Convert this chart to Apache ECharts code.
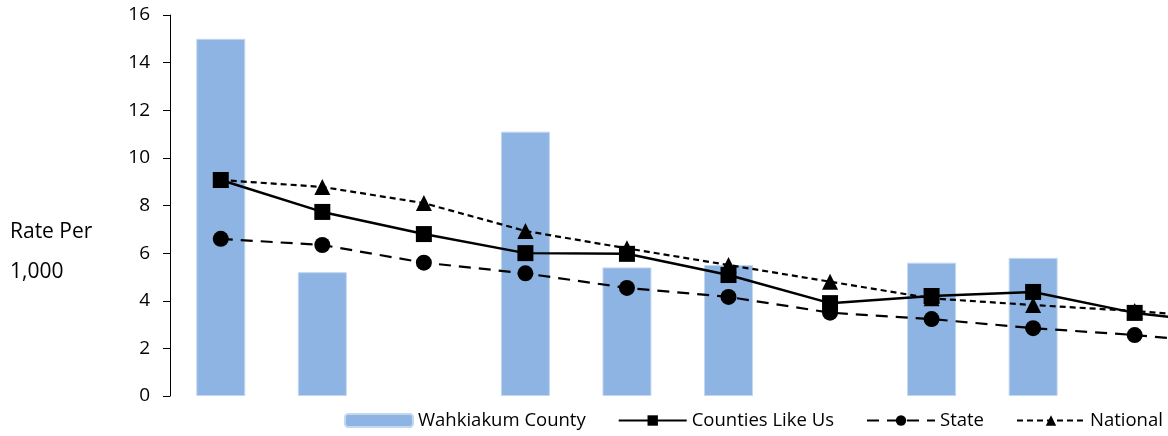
<!DOCTYPE html>
<html>
<head>
<meta charset="utf-8">
<script src="https://cdn.jsdelivr.net/npm/echarts@6/dist/echarts.min.js"></script>
<style>
  html, body { margin: 0; padding: 0; background: #fff; }
  #chart { width: 1168px; height: 436px; }
</style>
</head>
<body>
<div id="chart"></div>
<script>
const categories = ['A', 'B', 'C', 'D', 'E', 'F', 'G', 'H', 'I', 'J', 'K'];
const county = [15.0, 5.2, null, 11.1, 5.4, 5.5, null, 5.6, 5.8, null, null];
const countiesLikeUs = [9.07, 7.73, 6.8, 6.0, 5.97, 5.08, 3.9, 4.2, 4.37, 3.49, 3.0];
const stateRate = [6.6, 6.34, 5.6, 5.15, 4.54, 4.16, 3.5, 3.23, 2.85, 2.56, 2.18];
const nationalRate = [9.07, 8.78, 8.1, 6.93, 6.2, 5.5, 4.8, 4.1, 3.82, 3.57, 3.25];
const yTicks = { min: 0, max: 16, interval: 2 };

const font = 'Open Sans';
const chart = echarts.init(document.getElementById('chart'));

chart.setOption({
  animation: false,
  textStyle: { fontFamily: font, color: '#000' },
  // the plot runs past the right edge of the window, as in the source image
  grid: { left: 170, top: 15, width: 1117, height: 381, outerBoundsMode: 'none', containLabel: false },
  legend: {
    left: 339,
    top: 406,
    itemWidth: 68,
    itemHeight: 13,
    itemGap: 32,
    textStyle: { fontFamily: font, fontSize: 18.5, color: '#000' },
    data: ['Wahkiakum County', 'Counties Like Us', 'State', 'National']
  },
  graphic: [
    {
      type: 'text',
      left: 10,
      top: 212,
      style: {
        text: 'Rate Per\n1,000',
        font: '21px "Open Sans"',
        lineHeight: 40,
        fill: '#000'
      }
    }
  ],
  xAxis: {
    type: 'category',
    data: categories,
    axisLine: { show: false },
    axisTick: { show: false },
    axisLabel: { show: false }
  },
  yAxis: {
    type: 'value',
    min: yTicks.min,
    max: yTicks.max,
    interval: yTicks.interval,
    splitLine: { show: false },
    axisLine: { show: true, lineStyle: { color: '#000', width: 1 } },
    axisTick: { show: true, length: 7, lineStyle: { color: '#000' } },
    axisLabel: { fontSize: 19, color: '#000', margin: 20 }
  },
  series: [
    {
      name: 'Wahkiakum County',
      type: 'bar',
      data: county,
      barWidth: 49,
      itemStyle: { color: '#8eb4e3', borderColor: '#c3d7f0', borderWidth: 1 }
    },
    {
      name: 'Counties Like Us',
      type: 'line',
      data: countiesLikeUs,
      symbol: 'rect',
      symbolSize: 16,
      itemStyle: { color: '#000' },
      lineStyle: { color: '#000', width: 2.5, type: 'solid' }
    },
    {
      name: 'State',
      type: 'line',
      data: stateRate,
      symbol: 'circle',
      symbolSize: 16,
      itemStyle: { color: '#000' },
      lineStyle: { color: '#000', width: 2.2, type: [12, 8] }
    },
    {
      name: 'National',
      type: 'line',
      data: nationalRate,
      symbol: 'triangle',
      symbolSize: 16,
      itemStyle: { color: '#000' },
      lineStyle: { color: '#000', width: 2.2, type: [6, 4] }
    }
  ]
});
</script>
</body>
</html>
